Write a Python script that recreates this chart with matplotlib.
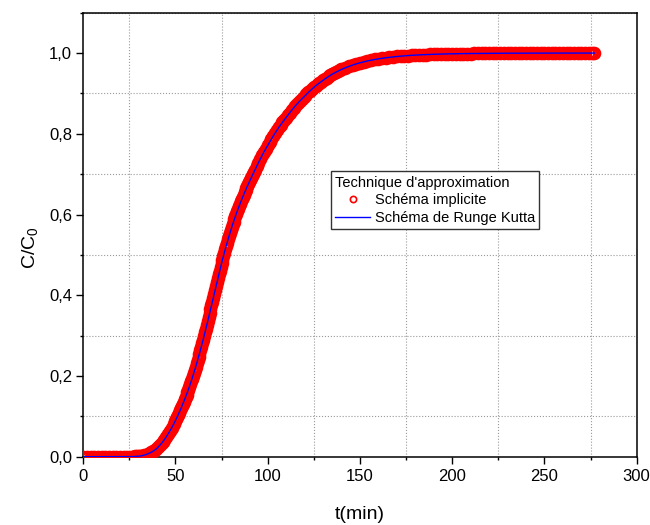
import numpy as np
import matplotlib
matplotlib.use("Agg")
import matplotlib.pyplot as plt
from matplotlib.ticker import MultipleLocator, FuncFormatter

plt.rcParams['font.family'] = ['Liberation Sans', 'DejaVu Sans']
plt.rcParams['mathtext.default'] = 'regular'

# ---- breakthrough curve C/C0 versus time (min)
t_min = [
    0, 2, 4, 6, 8, 10, 12, 14, 16, 18, 20, 22, 24, 26,
    27, 28, 29, 30, 31, 32, 33, 34, 35, 36, 37, 38, 39, 40,
    41, 42, 43, 44, 45, 46, 47, 48, 49, 50,
    50.5, 51, 51.5, 52, 52.5, 53, 53.5, 54, 54.5, 55, 55.5, 56, 56.5,
    57, 57.5, 58, 58.5, 59, 59.5, 60, 60.5, 61, 61.5, 62, 62.5, 63, 63.5,
    64, 64.5, 65, 65.5, 66, 66.5, 67, 67.5, 68, 68.5, 69, 69.5, 70, 70.5,
    71, 71.5, 72, 72.5, 73, 73.5, 74, 74.5, 75, 75.5, 76, 76.5, 77, 77.5,
    78, 78.5, 79, 79.5, 80, 80.5, 81, 81.5, 82, 82.5, 83, 83.5, 84, 84.5,
    85, 85.5, 86, 86.5, 87, 87.5, 88, 88.5, 89, 89.5, 90, 90.5, 91, 91.5,
    92, 92.5, 93,
    94, 95, 96, 97, 98, 99, 100, 101, 102, 103, 104, 105, 106, 107, 108,
    109, 110, 111, 112, 113, 114, 115, 116, 117, 118, 119, 120, 121, 122,
    123, 124, 125, 126, 127, 128, 129, 130, 131, 132, 133, 134, 135, 136,
    137, 138, 139, 140,
    142, 144, 146, 148, 150, 152, 154, 156, 158, 160, 162, 164, 166, 168,
    170, 172, 174, 176, 178, 180, 182, 184, 186, 188, 190, 192, 194, 196,
    198, 200, 202, 204, 206, 208, 210, 212, 214, 216, 218, 220, 222, 224,
    226, 228, 230, 232, 234, 236, 238, 240, 242, 244, 246, 248, 250, 252,
    254, 256, 258, 260, 262, 264, 266, 268, 270, 272, 274, 276, 277,
]

c_implicite = [
    0.0, 0.0, 0.0, 0.0, 0.0, 0.0, 0.0, 0.0, 0.0, 0.0, 0.0, 0.0, 0.0, 0.0,
    0.0002, 0.0005, 0.0008, 0.0012, 0.0018, 0.0027, 0.0039, 0.0053, 0.0070,
    0.0090, 0.0113, 0.0140, 0.0171, 0.0208,
    0.0256, 0.0307, 0.0363, 0.0424, 0.0490, 0.0561, 0.0637, 0.0718, 0.0804, 0.0895,
    0.0943, 0.0991, 0.1041, 0.1092, 0.1145, 0.1197, 0.1252, 0.1306, 0.1363,
    0.1420, 0.1480, 0.1539, 0.1602,
    0.1664, 0.1730, 0.1795, 0.1864, 0.1933, 0.2006, 0.2078, 0.2154, 0.2230,
    0.2310, 0.2389, 0.2472, 0.2554, 0.2639,
    0.2724, 0.2811, 0.2898, 0.2988, 0.3078, 0.3171, 0.3264, 0.3360, 0.3455,
    0.3552, 0.3649, 0.3747, 0.3845, 0.3943,
    0.4041, 0.4138, 0.4235, 0.4331, 0.4426, 0.4520, 0.4613, 0.4704, 0.4795,
    0.4883, 0.4971, 0.5056, 0.5141, 0.5223,
    0.5305, 0.5384, 0.5462, 0.5537, 0.5612, 0.5684, 0.5755, 0.5824, 0.5892,
    0.5958, 0.6023, 0.6086, 0.6148, 0.6208,
    0.6268, 0.6326, 0.6383, 0.6439, 0.6494, 0.6548, 0.6601, 0.6653, 0.6705,
    0.6756, 0.6806, 0.6856, 0.6905, 0.6954,
    0.7002, 0.7050, 0.7097,
    0.7194, 0.7288, 0.7378, 0.7466, 0.7551, 0.7633, 0.7712, 0.7792, 0.7871,
    0.7946, 0.8018, 0.8088, 0.8157, 0.8222, 0.8285,
    0.8345, 0.8403, 0.8467, 0.8527, 0.8584, 0.8639, 0.8693, 0.8744, 0.8793,
    0.8841, 0.8886, 0.8930, 0.8978, 0.9024,
    0.9068, 0.9109, 0.9150, 0.9188, 0.9225, 0.9259, 0.9293, 0.9325, 0.9358,
    0.9390, 0.9420, 0.9449, 0.9477, 0.9502,
    0.9527, 0.9551, 0.9573, 0.9594,
    0.9635, 0.9670, 0.9703, 0.9732, 0.9759, 0.9783, 0.9805, 0.9823, 0.9841,
    0.9857, 0.9871, 0.9883, 0.9895, 0.9905,
    0.9915, 0.9923, 0.9931, 0.9938, 0.9944, 0.9950, 0.9955, 0.9959, 0.9963,
    0.9967, 0.9970, 0.9973, 0.9976, 0.9978,
    0.9980, 0.9982, 0.9984, 0.9985, 0.9987, 0.9988, 0.9989, 0.9990, 0.9991,
    0.9992, 0.9993, 0.9993, 0.9994, 0.9995,
    0.9995, 0.9996, 0.9996, 0.9997, 0.9997, 0.9997, 0.9998, 0.9998, 0.9998,
    0.9998, 0.9999, 0.9999, 0.9999, 0.9999,
    0.9999, 0.9999, 0.9999, 1.0, 1.0, 1.0, 1.0, 1.0, 1.0, 1.0, 1.0, 1.0, 1.0,
]

# both schemes give the same profile at plotting precision
t_rk = t_min
c_runge_kutta = c_implicite

x_ticks = [0, 50, 100, 150, 200, 250, 300]
y_ticks = [0.0, 0.2, 0.4, 0.6, 0.8, 1.0]


fig = plt.figure(figsize=(6.5, 5.25), dpi=100)
ax = fig.add_axes([0.128, 0.1301, 0.8515, 0.8457])

ax.plot(t_min, c_implicite, linestyle='none', marker='o', ms=7.5, mew=2.3,
        mec='#ff0000', mfc='none', label='Schéma implicite', zorder=3)
ax.plot(t_rk, c_runge_kutta, color='#0000ff', lw=1.0,
        label='Schéma de Runge Kutta', zorder=4)

ax.set_xlim(0, 300)
ax.set_ylim(0, 1.1)
ax.set_xticks(x_ticks)
ax.set_yticks(y_ticks)
ax.xaxis.set_minor_locator(MultipleLocator(25))
ax.yaxis.set_minor_locator(MultipleLocator(0.1))
ax.yaxis.set_major_formatter(FuncFormatter(lambda v, pos: ('%.1f' % v).replace('.', ',')))

ax.tick_params(which='both', direction='out', width=1.0, labelsize=12, colors='black')
ax.tick_params(which='major', length=5)
ax.tick_params(which='minor', length=2.5)
ax.tick_params(axis='x', pad=4)
ax.tick_params(axis='y', pad=3)
for s in ax.spines.values():
    s.set_linewidth(1.1)

ax.grid(which='minor', linestyle=':', color='#999999', linewidth=0.8)
ax.grid(which='major', visible=False)

ax.set_xlabel('t(min)', fontsize=14, labelpad=16)
ax.set_ylabel('C/C$_0$', fontsize=14)
ax.yaxis.set_label_coords(-0.078, 0.47)

# legend with the small marker used in the key
leg = ax.legend(title="Technique d'approximation", loc='upper left',
                bbox_to_anchor=(0.509, 0.674), bbox_transform=fig.transFigure,
                borderaxespad=0, fontsize=10.5, title_fontsize=10.5, alignment='left',
                frameon=True, fancybox=False, edgecolor='#333333', framealpha=1,
                handlelength=2.4, handletextpad=0.3, labelspacing=0.25,
                borderpad=0.3, markerscale=0.6)
leg.get_frame().set_linewidth(1.0)
for h in leg.legend_handles[:1]:
    h.set_markeredgewidth(1.2)

fig.savefig('out.png', dpi=100)
